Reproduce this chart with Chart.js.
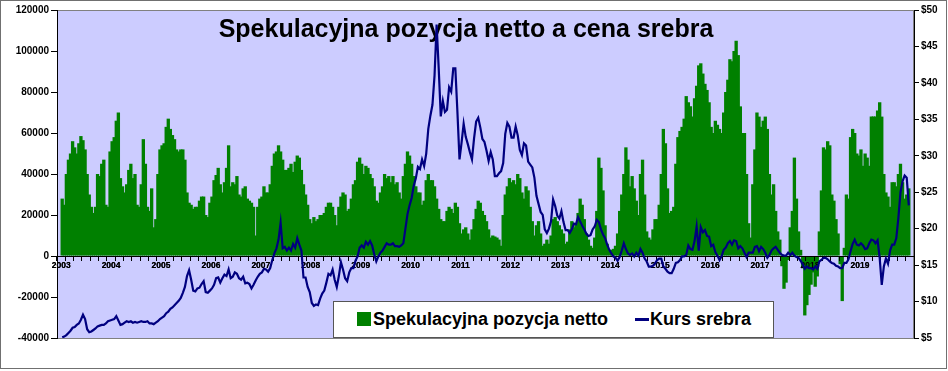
<!DOCTYPE html>
<html>
<head>
<meta charset="utf-8">
<script src="https://cdn.jsdelivr.net/npm/chart.js@4/dist/chart.umd.min.js"></script>
<style>
html,body{margin:0;padding:0;background:#fff;}
#wrap{position:relative;width:948px;height:371px;overflow:hidden;}
#c{position:absolute;left:0;top:0;}
#legend{position:absolute;left:333px;top:301px;width:441px;height:37px;background:#fff;border:1px solid #555;box-sizing:border-box;font:bold 18px Arial,"Liberation Sans",sans-serif;color:#000;}
#legend .sq{position:absolute;left:23px;top:10px;width:14px;height:14px;background:#008000;}
#legend .ln{position:absolute;left:301px;top:16px;width:14px;height:3px;background:#000080;}
#legend .t{position:absolute;top:8px;line-height:18px;white-space:nowrap;}
</style>
</head>
<body>
<div id="wrap">
<canvas id="c" width="948" height="371"></canvas>
<div id="legend">
  <div class="sq"></div><div class="t" style="left:39px">Spekulacyjna pozycja netto</div>
  <div class="ln"></div><div class="t" style="left:316px">Kurs srebra</div>
</div>
</div>
<script>
// Semi-monthly samples, 2003 .. end of 2019 on the chart's axis (24 per year)
const pointsPerYear = 24;
const yearLabels = ['2003','2004','2005','2006','2007','2008','2009','2010','2011','2012','2013','2014','2015','2016','2017','2018','2019'];

const netPosition = [
28000,25000,40000,47000,50000,56000,53000,50000,55000,58500,
56500,52000,40000,30000,24000,21000,24000,40000,39000,45000,
47000,25000,24000,51000,56000,58000,66000,70000,38000,34000,
31000,35000,42000,45000,38000,40000,25000,24000,35000,57000,
45000,24000,22000,33000,14000,18000,40000,52000,54000,55000,
63000,67000,62000,59000,57000,52000,51000,52000,52000,47000,
31000,26000,25000,23000,24000,24000,27000,29000,
29000,20000,19000,26000,29000,37000,39500,43000,35000,31000,
36000,43000,54000,34000,36000,35000,39000,30000,29000,33000,
34000,28000,27000,26000,24000,10000,24000,28000,29000,34000,
31000,31000,35000,44000,50000,51000,54000,51000,47000,42000,
42000,43000,45000,41000,46000,49000,48000,42000,35000,30000,
25000,18000,16000,19000,17000,18000,20000,20000,21000,24000,
26000,26000,24000,20000,15000,24000,29000,31000,30000,
22000,23000,28000,35000,37000,46000,48000,45000,40000,44000,
43000,40000,38000,34000,27000,26000,31000,34000,40000,38000,
39000,36000,39000,35000,36000,31000,28000,39000,45000,51000,
49000,45000,39000,34000,31000,31000,25000,27000,37000,40000,
37000,37000,34000,28000,23000,18000,17000,17000,22000,24000,
23000,21000,26000,24000,16000,11000,13000,14000,11000,8000,
13000,18000,23000,27000,26000,22000,20000,17000,13000,
9000,10000,9500,9000,8000,5000,20000,30000,34000,38000,
36000,37000,35000,40000,38000,31000,28000,34000,32000,24000,
17000,10000,15000,17000,11000,5000,6000,8000,6000,10000,
18000,19000,17000,15000,13000,11000,6000,7000,13000,17000,
14000,16000,21000,28000,25000,18000,11000,8000,5000,4000,
9000,22000,48000,43000,32000,15000,6000,3000,3000,3500,
5000,11000,22000,30000,40000,53000,47000,34000,39000,
33000,27000,20000,40000,47000,30000,12000,9000,8000,13000,
18000,18000,25000,40000,62000,55000,33000,21000,22000,24000,
45000,58000,61000,63000,67000,78000,75000,73000,68000,77000,
83000,93000,94000,89000,84000,81000,75000,63000,60000,66000,
64000,62000,60000,70000,80000,86000,96000,95000,100000,105000,
98000,73000,60000,60000,40000,16000,9000,35000,52000,70000,
68000,63000,66000,68000,62000,40000,30000,35000,22000,
12000,8000,-5000,-16000,-13000,-2000,14000,22000,48000,28000,
12000,3000,-6000,-29000,-24000,-19000,-14000,-8000,-15000,-10000,
12000,32000,53000,52000,56000,54000,30000,27000,18000,11000,
-4000,-22000,4000,30000,28000,58000,62000,60000,50000,49000,
52000,44000,50000,48000,44000,68000,68000,68000,71000,75000,
68000,40000,31000,29000,24000,36000,36000,34000,40000,45000,
36000,28000,30000,33000
];

const silverPrice = [
5.1,5.2,5.4,5.7,6.0,6.4,6.5,6.8,7.0,7.5,
8.2,7.6,6.2,5.8,5.9,6.1,6.3,6.6,6.7,6.8,
6.8,7.0,7.3,7.4,7.5,7.6,8.0,7.4,6.8,6.9,
7.1,7.3,7.2,7.3,7.1,7.2,7.1,7.2,7.3,7.2,
7.2,7.3,7.0,7.0,6.9,7.1,7.3,7.6,7.8,8.0,
8.4,8.6,9.0,9.2,9.5,9.8,10.1,10.5,11.2,12.0,
13.5,14.3,13.0,11.5,11.4,11.8,11.9,12.4,
12.8,11.3,11.2,11.5,11.8,12.3,13.2,13.3,12.6,13.2,
13.7,13.5,14.4,13.2,13.4,14.0,13.8,13.2,13.0,13.4,
12.5,12.6,12.4,11.8,12.3,12.9,13.4,13.8,14.0,14.5,
14.4,14.1,14.6,15.7,16.6,17.3,18.5,20.8,17.3,17.5,
17.0,17.4,17.0,17.9,17.4,18.7,17.8,17.0,13.3,13.3,
12.0,11.3,9.8,9.4,9.6,9.5,10.4,11.1,11.5,12.6,
13.8,13.6,14.4,13.0,12.0,13.5,15.4,14.4,13.2,
12.8,14.0,14.6,14.6,15.6,16.2,17.4,17.7,17.4,18.2,
17.8,18.3,17.7,16.5,15.5,16.2,16.7,17.0,17.5,18.0,
17.8,17.8,18.0,17.6,17.6,17.5,17.7,18.0,20.0,22.0,
23.2,24.2,25.9,26.9,28.5,28.2,29.5,28.6,30.3,33.7,
35.5,37.0,41.0,48.0,42.0,35.4,37.5,36.0,36.3,39.4,
38.8,42.0,42.0,36.0,29.5,31.8,34.4,32.6,31.6,30.5,
29.5,32.4,34.7,35.2,33.9,32.3,31.9,30.7,29.3,
30.5,29.5,27.2,27.2,27.6,27.9,29.0,33.0,34.5,34.0,
32.5,32.5,34.0,32.8,30.8,30.1,31.7,31.4,29.2,28.8,
28.4,27.0,24.5,23.4,22.3,21.9,19.9,19.4,20.0,21.0,
24.0,23.1,21.8,21.4,22.4,20.9,19.8,19.8,19.4,19.9,
20.7,20.6,21.6,21.0,20.4,19.9,19.3,19.0,19.1,19.9,
20.3,21.2,20.9,19.9,19.2,18.7,17.8,17.1,16.6,16.2,
16.0,15.6,16.1,17.0,18.0,17.2,16.6,16.4,16.6,
16.2,16.7,16.3,17.2,16.7,15.9,15.5,14.8,14.8,14.9,
15.2,15.7,15.9,15.9,14.8,14.5,14.1,13.9,13.9,14.5,
15.3,15.4,15.7,16.2,16.2,16.4,17.7,17.2,17.1,18.3,
20.3,17.0,20.2,19.5,19.8,19.0,18.9,17.6,17.8,16.8,
16.3,15.7,16.2,17.1,17.4,18.0,18.3,17.8,18.4,18.3,
17.3,17.6,17.3,16.7,16.1,16.7,16.7,16.7,17.5,17.6,
16.9,17.5,17.2,16.7,16.0,16.4,17.0,17.3,17.5,
17.1,16.7,16.4,16.3,16.3,16.7,16.4,16.7,16.3,16.1,
16.0,15.6,15.1,14.5,14.8,14.6,14.6,14.4,14.8,14.5,
15.5,15.7,16.0,16.0,15.8,15.5,15.3,15.2,14.9,14.8,
14.6,14.6,15.3,15.3,15.8,16.9,17.9,18.5,17.8,17.7,
18.0,17.7,17.2,17.3,18.0,18.5,18.4,18.0,18.4,16.0,
12.3,14.8,15.9,15.2,17.0,17.8,17.8,18.7,21.5,25.0,
26.5,27.3,27.0,23.2
];

const FONT = 'Arial, "Liberation Sans", sans-serif';
const totalPoints = yearLabels.length * pointsPerYear;

const barPoints = netPosition.map((v, i) => ({x: i + 0.5, y: v}));
const linePoints = silverPrice.map((v, i) => ({x: i + 0.5, y: v}));

const decor = {
  id: 'decor',
  beforeDraw(chart) {
    const {ctx, chartArea: a} = chart;
    ctx.save();
    ctx.fillStyle = '#ffffff';
    ctx.fillRect(0, 0, chart.width, chart.height);
    ctx.fillStyle = '#CCCCFF';
    ctx.fillRect(a.left, a.top, a.right - a.left, a.bottom - a.top);
    ctx.strokeStyle = '#808080';
    ctx.lineWidth = 1;
    ctx.strokeRect(a.left + 0.5, a.top + 0.5, a.right - a.left - 1, a.bottom - a.top);
    ctx.strokeStyle = '#707070';
    ctx.strokeRect(0.5, 0.5, 946, 368);
    ctx.restore();
  },
  beforeDatasetsDraw(chart) {
    const ctx = chart.ctx;
    ctx.save();
    ctx.font = 'bold 25px ' + FONT;
    ctx.fillStyle = '#000';
    ctx.textAlign = 'center';
    ctx.textBaseline = 'alphabetic';
    ctx.fillText('Spekulacyjna pozycja netto a cena srebra', 466, 36.5);
    ctx.restore();
  },
  afterDatasetDraw(chart, args) {
    if (args.index === 0) {
      chart.scales.x.draw(chart.chartArea);
    }
  }
};

new Chart(document.getElementById('c'), {
  type: 'bar',
  data: {
    datasets: [
      {
        type: 'bar',
        label: 'Spekulacyjna pozycja netto',
        data: barPoints,
        backgroundColor: '#008000',
        borderWidth: 0,
        barPercentage: 1.6,
        categoryPercentage: 1,
        grouped: false,
        yAxisID: 'y',
        order: 1
      },
      {
        type: 'line',
        label: 'Kurs srebra',
        data: linePoints,
        borderColor: '#000080',
        borderWidth: 2.2,
        pointRadius: 0,
        tension: 0,
        fill: false,
        yAxisID: 'y2',
        order: 0
      }
    ]
  },
  options: {
    responsive: false,
    animation: false,
    events: [],
    layout: {padding: {left: 10, right: 4, top: 10, bottom: 33}},
    plugins: {legend: {display: false}, tooltip: {enabled: false}, title: {display: false}},
    scales: {
      x: {
        type: 'linear',
        position: {y: 0},
        min: 0,
        max: totalPoints,
        grid: {drawOnChartArea: false, drawTicks: true, tickLength: 4, tickColor: '#000'},
        border: {display: true, color: '#000', width: 1},
        ticks: {
          stepSize: 4,
          autoSkip: false,
          maxRotation: 0,
          padding: 1,
          color: '#000',
          font: {family: FONT, size: 8.5, weight: 'bold'},
          callback: (v) => {
            const r = Math.round(v);
            return (r % pointsPerYear === 0 && r / pointsPerYear < yearLabels.length) ? yearLabels[r / pointsPerYear] : '';
          }
        }
      },
      y: {
        position: 'left',
        min: -40000,
        max: 120000,
        afterFit: (s) => { s.width = 47; },
        grid: {drawOnChartArea: false, tickLength: 6, tickColor: '#000'},
        border: {display: true, color: '#000', width: 1},
        ticks: {
          stepSize: 20000,
          padding: 2,
          color: '#000',
          font: {family: FONT, size: 10, weight: 'bold'},
          callback: (v) => String(v)
        }
      },
      y2: {
        position: 'right',
        min: 5,
        max: 50,
        afterFit: (s) => { s.width = 30; },
        grid: {drawOnChartArea: false, tickLength: 5, tickColor: '#000'},
        border: {display: true, color: '#000', width: 1},
        ticks: {
          stepSize: 5,
          padding: 2,
          color: '#000',
          font: {family: FONT, size: 10, weight: 'bold'},
          callback: (v) => '$' + v
        }
      }
    }
  },
  plugins: [decor]
});
</script>
</body>
</html>
